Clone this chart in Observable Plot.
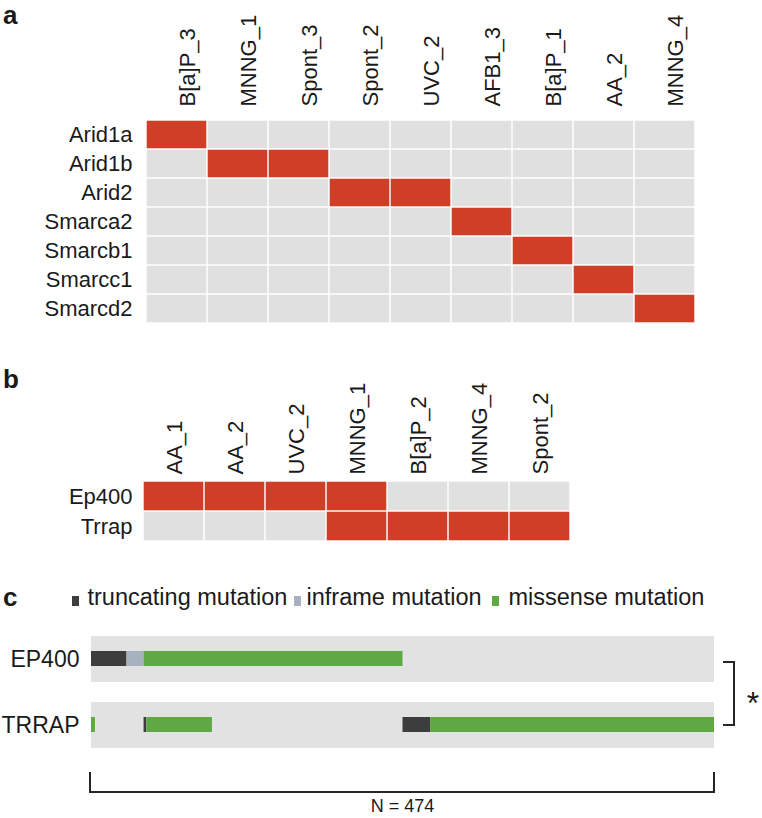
<!DOCTYPE html>
<html>
<head>
<meta charset="utf-8">
<script src="https://cdn.jsdelivr.net/npm/d3@7"></script>
<script src="https://cdn.jsdelivr.net/npm/@observablehq/plot@0.6"></script>
<style>
  html, body { margin: 0; padding: 0; background: #fff; }
  #root { position: relative; width: 762px; height: 818px; overflow: hidden;
          font-family: "Liberation Sans", Arial, sans-serif; color: #1a1a1a; }
  .panel { position: absolute; left: 0; }
  .letter { position: absolute; left: 3px; font-weight: bold; font-size: 26px; line-height: 30px; }
  .leg { position: absolute; font-size: 23.5px; line-height: 23.5px; white-space: nowrap; }
  .sq { position: absolute; width: 7px; height: 10px; }
</style>
</head>
<body>
<div id="root"></div>
<script>
// ---------- Panel a data ----------
const samplesA = ["B[a]P_3", "MNNG_1", "Spont_3", "Spont_2", "UVC_2", "AFB1_3", "B[a]P_1", "AA_2", "MNNG_4"];
const genesA = ["Arid1a", "Arid1b", "Arid2", "Smarca2", "Smarcb1", "Smarcc1", "Smarcd2"];
const hitGenesA = ["Arid1a", "Arid1b", "Arid1b", "Arid2", "Arid2", "Smarca2", "Smarcb1", "Smarcc1", "Smarcd2"];
const hitSamplesA = ["B[a]P_3", "MNNG_1", "Spont_3", "Spont_2", "UVC_2", "AFB1_3", "B[a]P_1", "AA_2", "MNNG_4"];

// ---------- Panel b data ----------
const samplesB = ["AA_1", "AA_2", "UVC_2", "MNNG_1", "B[a]P_2", "MNNG_4", "Spont_2"];
const genesB = ["Ep400", "Trrap"];
const hitGenesB = ["Ep400", "Ep400", "Ep400", "Ep400", "Trrap", "Trrap", "Trrap", "Trrap"];
const hitSamplesB = ["AA_1", "AA_2", "UVC_2", "MNNG_1", "MNNG_1", "B[a]P_2", "MNNG_4", "Spont_2"];

// ---------- Panel c data ----------
const genesC = ["EP400", "TRRAP"];
const mutTypes = ["truncating", "inframe", "missense"];
const mutLabels = ["truncating mutation", "inframe mutation", "missense mutation"];
const segGene = ["EP400", "EP400", "EP400", "TRRAP", "TRRAP", "TRRAP", "TRRAP", "TRRAP"];
const segType = ["truncating", "inframe", "missense", "missense", "truncating", "missense", "truncating", "missense"];
const segStart = [0, 27, 40, 0, 40, 42, 237, 258];
const segEnd = [27, 40, 237, 3, 42, 92, 258, 474];
const nSamples = 474;
const significance = "*";

// ---------- styles ----------
const RED = "#d13e27";
const GREY = "#e0e0e0";
const typeColors = ["#3d3d3d", "#a7b1bf", "#5fa945"];
const FONT = "'Liberation Sans', Arial, sans-serif";
const root = document.getElementById("root");

function place(node, top) {
  node.classList.add("panel");
  node.style.top = top + "px";
  root.appendChild(node);
}

function heat(samples, genes, hitG, hitS, opt) {
  const all = genes.flatMap(g => samples.map(s => ({g, s})));
  const hits = hitG.map((g, i) => ({g, s: hitS[i]}));
  return Plot.plot({
    width: 762, height: opt.height,
    marginLeft: opt.left, marginRight: opt.right, marginTop: opt.top, marginBottom: opt.bottom,
    style: {fontFamily: FONT, fontSize: "22px", color: "#1a1a1a", background: "transparent", overflow: "visible"},
    x: {domain: samples, padding: 0, axis: null},
    y: {domain: genes, padding: 0, axis: null},
    marks: [
      Plot.cell(all, {x: "s", y: "g", fill: GREY, inset: 0.75}),
      Plot.cell(hits, {x: "s", y: "g", fill: RED, inset: 0.75}),
      Plot.axisX({anchor: "top", tickRotate: -90, tickSize: 0, tickPadding: opt.xpad, dx: opt.xdx, label: null, fontSize: 22}),
      Plot.axisY({anchor: "left", tickSize: 0, tickPadding: opt.ypad, label: null, fontSize: 22})
    ]
  });
}

// Panel a
place(heat(samplesA, genesA, hitGenesA, hitSamplesA,
  {height: 330, left: 144, right: 65, top: 117, bottom: 5, xpad: 11, xdx: 11, ypad: 12}), 0);

// Panel b
place(heat(samplesB, genesB, hitGenesB, hitSamplesB,
  {height: 210, left: 142, right: 191, top: 141, bottom: 9, xpad: 7, xdx: 1, ypad: 10}), 340);

// Panel c
const segs = segGene.map((g, i) => ({g, type: segType[i], x1: segStart[i], x2: segEnd[i]}));
const stripes = genesC.flatMap(g => d3.range(nSamples + 1).map(i => ({g, i})));
const plotC = Plot.plot({
  width: 762, height: 238,
  marginLeft: 91, marginRight: 48, marginTop: 0, marginBottom: 0,
  style: {fontFamily: FONT, fontSize: "23px", color: "#1a1a1a", background: "transparent", overflow: "visible"},
  x: {domain: [0, nSamples], axis: null},
  y: {domain: genesC, range: [56, 168], paddingInner: 20 / 66, paddingOuter: 0, axis: null},
  color: {domain: mutTypes, range: typeColors},
  marks: [
    Plot.barX(genesC, {x1: 0, x2: nSamples, y: d => d, fill: "#e2e2e2"}),
    Plot.barX(segs, {x1: "x1", x2: "x2", y: "g", fill: "type", insetTop: 15, insetBottom: 16}),
    Plot.ruleX(stripes, {x: "i", y: "g", stroke: "#000", strokeOpacity: 0.05, strokeWidth: 0.6}),
    Plot.axisY({anchor: "left", tickSize: 0, tickPadding: 12, label: null, fontSize: 23})
  ]
});
place(plotC, 580);

// annotations drawn through the plot's own scales
(function annotate() {
  const sx = plotC.scale("x"), sy = plotC.scale("y");
  const bw = sy.bandwidth;
  const xr = sx.apply(nSamples), xl = sx.apply(0);
  const yTop = sy.apply(genesC[0]) + bw / 2 + 3;
  const yBot = sy.apply(genesC[1]) + bw / 2;
  const svg = d3.select(plotC);
  const g = svg.append("g").attr("fill", "none").attr("stroke", "#262626").attr("stroke-width", 2);
  g.append("path").attr("d", `M${xr + 9},${yTop}H${xr + 20}V${yBot}H${xr + 9}`);
  const yBase = sy.apply(genesC[1]) + bw + 24;
  g.append("path").attr("d", `M${xl - 1},${yBase}V${yBase + 20}H${xr}V${yBase}`);
  svg.append("text").attr("x", xr + 39).attr("y", (yTop + yBot) / 2 + 20)
    .attr("text-anchor", "middle").attr("font-size", 32).attr("fill", "#1a1a1a").text(significance);
  svg.append("text").attr("x", (xl + xr) / 2).attr("y", yBase + 40)
    .attr("text-anchor", "middle").attr("font-size", 18).attr("fill", "#1a1a1a").text("N = " + nSamples);
})();

// letters
[["a", 0], ["b", 364], ["c", 582]].forEach(([t, top]) => {
  const d = document.createElement("div");
  d.className = "letter"; d.style.top = top + "px"; d.textContent = t; root.appendChild(d);
});

// legend
const legSq = [72, 294, 492];
const legTx = [87.5, 306.5, 508.5];
mutLabels.forEach((lab, i) => {
  const s = document.createElement("div");
  s.className = "sq"; s.style.left = legSq[i] + "px"; s.style.top = "595.5px"; s.style.background = typeColors[i];
  root.appendChild(s);
  const t = document.createElement("div");
  t.className = "leg"; t.style.left = legTx[i] + "px"; t.style.top = "585.6px"; t.textContent = lab;
  root.appendChild(t);
});
</script>
</body>
</html>
